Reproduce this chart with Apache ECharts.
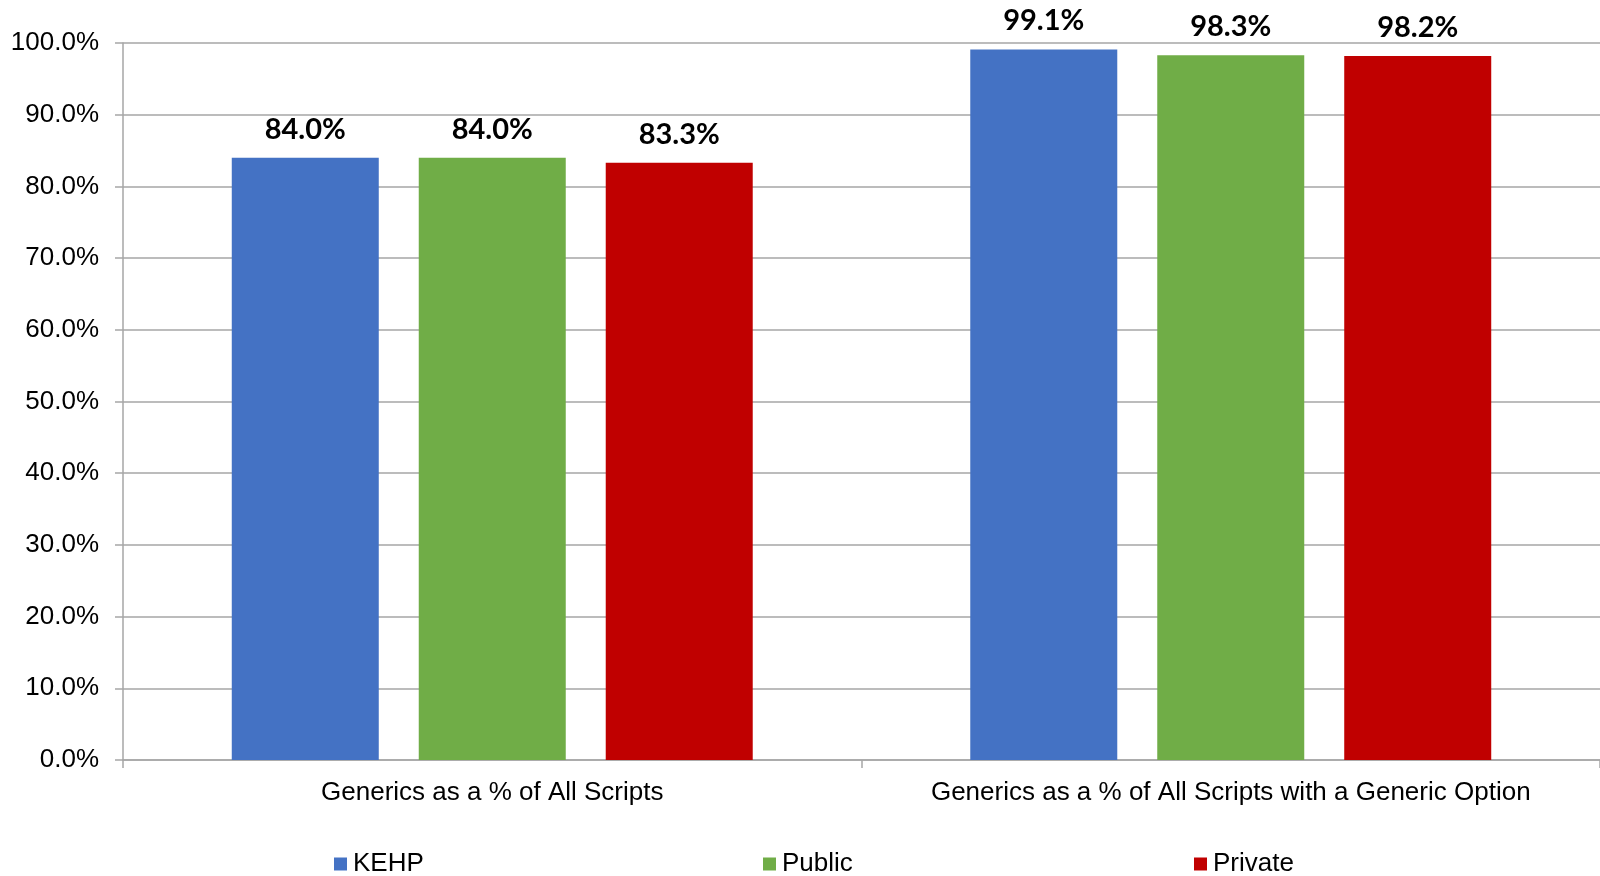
<!DOCTYPE html>
<html>
<head>
<meta charset="utf-8">
<script src="https://cdn.jsdelivr.net/npm/echarts@6/dist/echarts.min.js"></script>
<style>
  html, body { margin: 0; padding: 0; background: #ffffff; }
  #chart { width: 1600px; height: 876px; }
</style>
</head>
<body>
<div id="chart"></div>
<script>
// Categories and the three payer series (percent of scripts that are generic)
const categories = [
  'Generics as a % of All Scripts',
  'Generics as a % of All Scripts with a Generic Option'
];
const seriesNames = ['KEHP', 'Public', 'Private'];
const kehpValues = [84.0, 99.1];
const publicValues = [84.0, 98.3];
const privateValues = [83.3, 98.2];
const seriesColors = ['#4472C4', '#70AD47', '#C00000'];
const legendLeft = [334, 763, 1194];

const seriesValues = [kehpValues, publicValues, privateValues];

const chart = echarts.init(document.getElementById('chart'), null, { renderer: 'canvas' });

const gridColor = '#A6A6A6';

const option = {
  animation: false,
  backgroundColor: '#ffffff',
  grid: { left: 123, top: 43, width: 1487, height: 717 },
  legend: seriesNames.map((name, i) => ({
    data: [name],
    left: legendLeft[i],
    top: 851,
    itemWidth: 13,
    itemHeight: 13,
    itemGap: 0,
    icon: 'rect',
    textStyle: { fontFamily: 'Liberation Sans', fontSize: 26, color: '#000', padding: [0, 0, 0, 1] },
    padding: 0,
    selectedMode: false
  })),
  xAxis: {
    type: 'category',
    data: categories,
    axisLine: { lineStyle: { color: gridColor, width: 1.5 } },
    axisTick: { show: true, interval: 0, length: 8, lineStyle: { color: gridColor, width: 1.5 } },
    axisLabel: {
      interval: 0,
      hideOverlap: false,
      fontFamily: 'Liberation Sans',
      fontSize: 26,
      color: '#000',
      margin: 20
    }
  },
  yAxis: {
    type: 'value',
    min: 0,
    max: 100,
    interval: 10,
    axisLine: { show: true, lineStyle: { color: gridColor, width: 1.5 } },
    axisTick: { show: true, length: 8, lineStyle: { color: gridColor, width: 1.5 } },
    splitLine: { lineStyle: { color: gridColor, width: 1.5 } },
    axisLabel: {
      fontFamily: 'Liberation Sans',
      fontSize: 26,
      color: '#000',
      margin: 24,
      padding: [5, 0, 0, 0],
      formatter: v => v.toFixed(1) + '%'
    }
  },
  series: seriesNames.map((name, i) => ({
    name: name,
    type: 'bar',
    data: seriesValues[i],
    barWidth: 147,
    barGap: '27.2%',
    itemStyle: { color: seriesColors[i] },
    label: {
      show: true,
      position: 'top',
      distance: 14,
      fontFamily: 'Lato',
      fontWeight: 'bold',
      fontSize: 29,
      color: '#000',
      formatter: p => p.value.toFixed(1) + '%'
    }
  }))
};

chart.setOption(option);
</script>
</body>
</html>
